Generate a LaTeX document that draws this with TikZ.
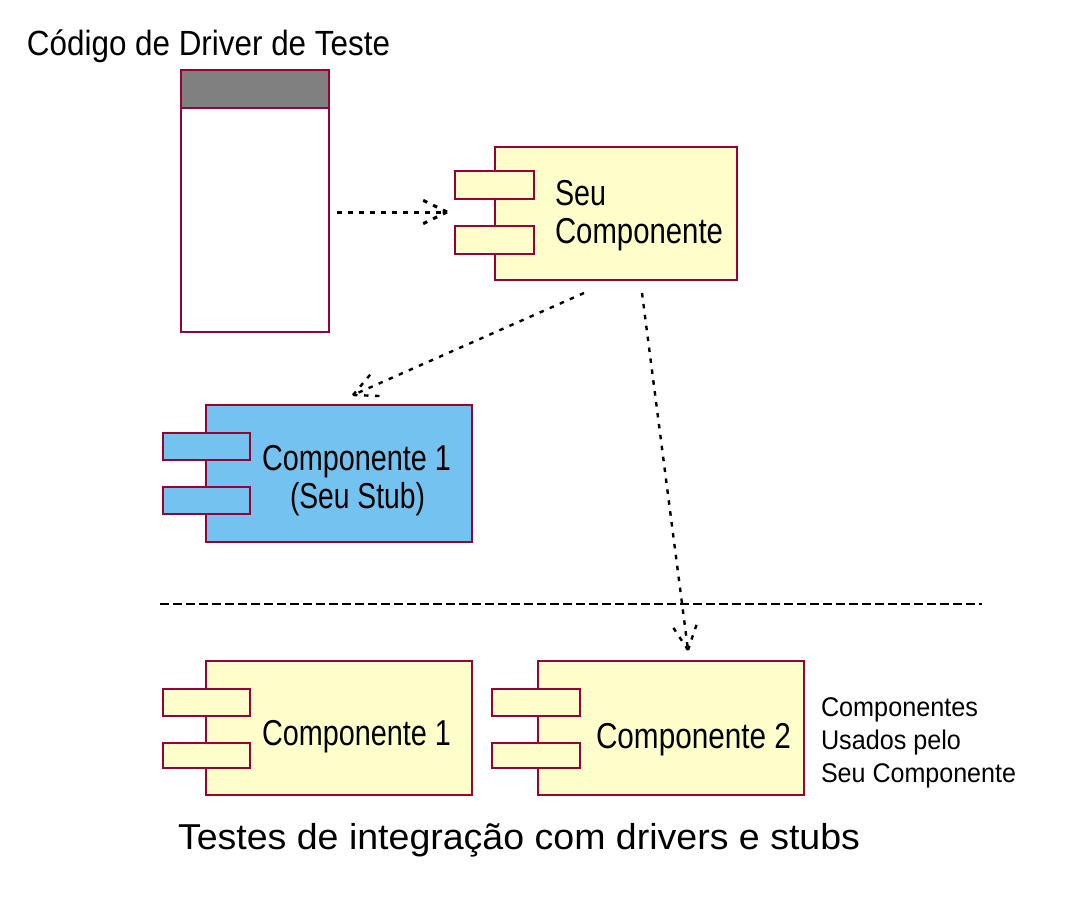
\documentclass[tikz,border=0pt]{standalone}
\usepackage{fontspec}
\setmainfont{Liberation Sans}
\usetikzlibrary{calc}
\definecolor{umlline}{HTML}{990033}
\definecolor{umlyellow}{HTML}{FFFFCC}
\definecolor{umlblue}{HTML}{73C2EF}
\definecolor{umlgray}{HTML}{808080}
\newcommand{\sizedtext}[3]{\resizebox{#1pt}{\height}{\fontsize{#2}{#2}\selectfont #3}}
\newcommand{\depline}[4]{%
  \coordinate (#1s) at #2;
  \coordinate (#1e) at #3;
  \draw[deparrow,line width=#4] (#1s) -- (#1e);
  \draw[deparrow,line width=#4] (#1e) -- ($(#1e)!27pt!26:(#1s)$);
  \draw[deparrow,line width=#4] (#1e) -- ($(#1e)!27pt!-26:(#1s)$);
}
\tikzset{
  x=1pt,y=-1pt,
  umlbox/.style={draw=umlline,line width=2.95pt,rectangle,inner sep=0pt,outer sep=0pt},
  plain/.style={umlbox,fill=white},
  yellowbox/.style={umlbox,fill=umlyellow},
  bluebox/.style={umlbox,fill=umlblue},
  label/.style={inner sep=0pt,outer sep=0pt,anchor=base west,text=black},
  deparrow/.style={black,dash pattern=on 4.5pt off 6.5pt},
  sepline/.style={black,line width=2.8pt,dash pattern=on 8.5pt off 4.5pt},
}
\begin{document}
\begin{tikzpicture}
\useasboundingbox (0,0) rectangle (1078,920);
% driver
\node[plain,minimum width=148pt,minimum height=262pt] (driver) at (255,201) {};
\node[umlbox,fill=umlgray,minimum width=148pt,minimum height=38pt] (driverhead) at (255,89) {};
\node[label] (drivertitle) at (27,56) {\sizedtext{363}{35}{Código de Driver de Teste}};
% Seu Componente
\node[yellowbox,minimum width=242pt,minimum height=133pt] (seu) at (616,213.5) {};
\node[yellowbox,minimum width=79pt,minimum height=28pt] (seua) at (494.5,185) {};
\node[yellowbox,minimum width=79pt,minimum height=28pt] (seub) at (494.5,240) {};
\node[label] (seut1) at (555,205) {\sizedtext{51}{36}{Seu}};
\node[label] (seut2) at (555,243) {\sizedtext{168}{36}{Componente}};
% Stub
\node[bluebox,minimum width=266pt,minimum height=137pt] (stub) at (339,473.5) {};
\node[bluebox,minimum width=87pt,minimum height=27pt] (stuba) at (206.5,446.5) {};
\node[bluebox,minimum width=87pt,minimum height=27pt] (stubb) at (206.5,500.5) {};
\node[label] (stubt1) at (262,470) {\sizedtext{189}{36}{Componente 1}};
\node[label] (stubt2) at (290,508) {\sizedtext{135}{36}{(Seu Stub)}};
% Componente 1
\node[yellowbox,minimum width=266pt,minimum height=134pt] (compa) at (339,728) {};
\node[yellowbox,minimum width=87pt,minimum height=27pt] (compaa) at (206.5,702.5) {};
\node[yellowbox,minimum width=87pt,minimum height=25pt] (compab) at (206.5,755.5) {};
\node[label] (compat) at (262,745) {\sizedtext{189}{36}{Componente 1}};
% Componente 2
\node[yellowbox,minimum width=266pt,minimum height=134pt] (compb) at (671,728) {};
\node[yellowbox,minimum width=88pt,minimum height=27pt] (compba) at (536,702.5) {};
\node[yellowbox,minimum width=88pt,minimum height=25pt] (compbb) at (536,755.5) {};
\node[label] (compbt) at (596,748) {\sizedtext{195}{36}{Componente 2}};
% side text
\node[label] (side1) at (821,716) {\sizedtext{157}{27}{Componentes}};
\node[label] (side2) at (821,749) {\sizedtext{140}{27}{Usados pelo}};
\node[label] (side3) at (821,782) {\sizedtext{195}{27}{Seu Componente}};
% caption
\node[label] (caption) at (178,849) {\sizedtext{682}{36}{Testes de integração com drivers e stubs}};
% separator
\coordinate (sepl) at (160,604);
\coordinate (sepr) at (982,604);
\draw[sepline] (sepl) -- (sepr);
% connectors
\depline{da}{([shift={(8,11)}]driver.east)}{([shift={(-48,-1.5)}]seu.west)}{3pt}
\depline{db}{([shift={(-32,13)}]seu.south)}{([shift={(14,-10)}]stub.north)}{2.4pt}
\depline{dc}{([shift={(26,13)}]seu.south)}{([shift={(17,-11)}]compb.north)}{2.4pt}
\end{tikzpicture}
\end{document}
